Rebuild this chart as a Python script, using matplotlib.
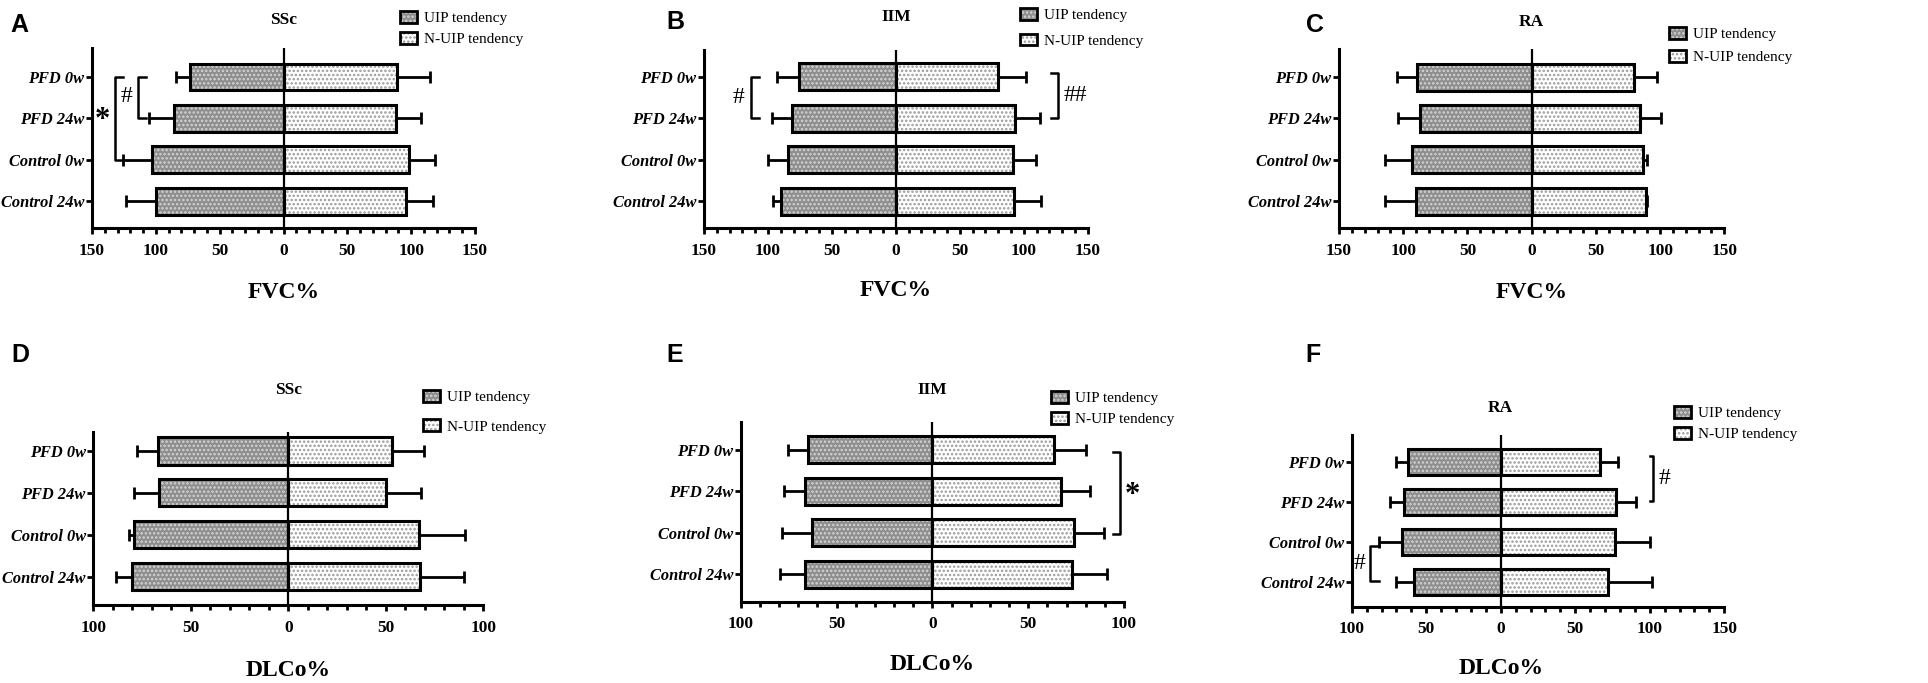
import matplotlib
matplotlib.use("Agg")
import matplotlib.pyplot as plt
import numpy as np
from matplotlib.patches import Patch
from matplotlib.legend_handler import HandlerTuple
from matplotlib.ticker import MultipleLocator, FuncFormatter
from matplotlib.transforms import blended_transform_factory

plt.rcParams['font.family'] = ['Liberation Serif', 'DejaVu Serif']
plt.rcParams['hatch.linewidth'] = 1.2

W, H = 1928, 683

groups = ['PFD 0w', 'PFD 24w', 'Control 0w', 'Control 24w']

# FVC% (mean, SD) per disease
ssc_fvc_uip = [73, 86, 103, 100]
ssc_fvc_uip_sd = [11, 19, 23, 23]
ssc_fvc_nuip = [89, 88, 98, 96]
ssc_fvc_nuip_sd = [26, 20, 21, 21]

iim_fvc_uip = [76, 81, 84, 90]
iim_fvc_uip_sd = [17, 16, 16, 6]
iim_fvc_nuip = [80, 93.5, 91.5, 92]
iim_fvc_nuip_sd = [22, 19.5, 18, 21.5]

ra_fvc_uip = [89, 87, 93, 90]
ra_fvc_uip_sd = [15.5, 17, 21, 24]
ra_fvc_nuip = [80, 84.5, 87, 89]
ra_fvc_nuip_sd = [17.5, 16, 2.5, 0.8]

# DLCo% (mean, SD) per disease
ssc_dlco_uip = [67, 66.5, 79, 80]
ssc_dlco_uip_sd = [10.5, 12.5, 2.5, 8.5]
ssc_dlco_nuip = [53, 50, 67, 67.5]
ssc_dlco_nuip_sd = [16.5, 18, 23.5, 22.5]

iim_dlco_uip = [65, 66.5, 63, 66.5]
iim_dlco_uip_sd = [10.5, 11, 15.5, 13]
iim_dlco_nuip = [63.5, 67, 74, 73]
iim_dlco_nuip_sd = [16.5, 15.5, 15.5, 18]

ra_dlco_uip = [62, 65, 66, 58]
ra_dlco_uip_sd = [8, 9.5, 15.5, 12.5]
ra_dlco_nuip = [66.5, 77.5, 76.5, 72]
ra_dlco_nuip_sd = [12, 13, 23.5, 29.5]

UIP_FACE = '#8e8e8e'
UIP_HATCH = '#d4d4d4'
NUIP_FACE = 'white'
NUIP_HATCH = '#9a9a9a'


def px(x, y):
    return x / W, 1 - y / H


def draw_panel(fig, rect, uip, uip_sd, nuip, nuip_sd, xlim, ylim_top, ylim_bottom):
    ax = fig.add_axes(rect)
    y = np.arange(len(groups))
    h = 0.65
    neg = -np.array(uip)
    # hatched fills first, then a clean black outline on top
    ax.barh(y, neg, height=h, color=UIP_FACE, edgecolor=UIP_HATCH, hatch='....', linewidth=0, zorder=2)
    ax.barh(y, nuip, height=h, color=NUIP_FACE, edgecolor=NUIP_HATCH, hatch='....', linewidth=0, zorder=2)
    ax.barh(y, neg, height=h, fill=False, edgecolor='black', linewidth=2.2, zorder=3)
    ax.barh(y, nuip, height=h, fill=False, edgecolor='black', linewidth=2.2, zorder=3)
    zeros = np.zeros(len(groups))
    ax.errorbar(neg, y, xerr=[uip_sd, zeros], fmt='none', ecolor='black', elinewidth=2,
                capsize=4.5, capthick=2, zorder=1)
    ax.errorbar(nuip, y, xerr=[zeros, nuip_sd], fmt='none', ecolor='black', elinewidth=2,
                capsize=4.5, capthick=2, zorder=1)
    ax.axvline(0, color='black', lw=1.6, zorder=4)

    ax.set_xlim(*xlim)
    ax.set_ylim(len(groups) - 1 + ylim_bottom, -ylim_top)
    ax.set_yticks(y)
    ax.set_yticklabels(groups, fontsize=11.8, fontweight='bold', fontstyle='italic')
    ax.xaxis.set_major_locator(MultipleLocator(50))
    ax.xaxis.set_minor_locator(MultipleLocator(10))
    ax.xaxis.set_major_formatter(FuncFormatter(lambda v, p: f"{abs(v):.0f}"))
    ax.tick_params(axis='x', which='major', length=4.5, width=2, labelsize=12.5, pad=6)
    ax.tick_params(axis='x', which='minor', length=3.5, width=2)
    ax.tick_params(axis='y', length=4, width=2, pad=1.5)
    for s in ['top', 'right']:
        ax.spines[s].set_visible(False)
    for s in ['left', 'bottom']:
        ax.spines[s].set_linewidth(2.2)
    for lab in ax.get_xticklabels():
        lab.set_fontweight('bold')
    return ax


def bracket(ax, x, y0, y1, x_tick, text, tx, ty, size=17, weight='normal'):
    ax.plot([x_tick, x, x, x_tick], [y0, y0, y1, y1], color='black', lw=1.8, clip_on=False, zorder=5)
    ax.text(tx, ty, text, fontsize=size, fontweight=weight, ha='center', va='center', clip_on=False)


def headers(fig, ax, letter, letter_xy, title, title_y, xlabel, xlabel_y, leg_xy, leg_sp):
    tr = blended_transform_factory(ax.transData, fig.transFigure)
    ax.text(0, 1 - title_y / H, title, transform=tr, ha='center', va='center',
            fontsize=12.5, fontweight='bold')
    ax.text(0, 1 - xlabel_y / H, xlabel, transform=tr, ha='center', va='center',
            fontsize=17, fontweight='bold')
    fig.text(*px(*letter_xy), letter, ha='center', va='center', fontsize=18,
             fontweight='bold', family='Liberation Sans')
    h_uip = (Patch(facecolor=UIP_FACE, edgecolor=UIP_HATCH, hatch='....', linewidth=0),
             Patch(fill=False, edgecolor='black', linewidth=2))
    h_nuip = (Patch(facecolor=NUIP_FACE, edgecolor=NUIP_HATCH, hatch='....', linewidth=0),
              Patch(fill=False, edgecolor='black', linewidth=2))
    fig.legend([h_uip, h_nuip], ['UIP tendency', 'N-UIP tendency'],
               handler_map={tuple: HandlerTuple(ndivide=1)},
               loc='upper left', bbox_to_anchor=px(leg_xy[0], leg_xy[1]),
               frameon=False, fontsize=11, borderpad=0, borderaxespad=0,
               handlelength=1.1, handleheight=0.8, handletextpad=0.5,
               labelspacing=leg_sp)


fig = plt.figure(figsize=(W / 100, H / 100), dpi=100)

# Panel A
axA = draw_panel(fig, [92 / W, 1 - 228 / H, 383 / W, 180 / H],
                 ssc_fvc_uip, ssc_fvc_uip_sd, ssc_fvc_nuip, ssc_fvc_nuip_sd,
                 (-150, 150), 0.70, 0.65)
bracket(axA, -113.7, 0, 1, -107.7, '#', -122.6, 0.48)
bracket(axA, -131.7, 0, 2, -126, '*', -142, 1.05, size=22, weight='bold')
headers(fig, axA, 'A', (19, 25), 'SSc', 20, 'FVC%', 293, (400, 11), 0.45)

# Panel B
axB = draw_panel(fig, [704 / W, 1 - 228 / H, 383.7 / W, 178 / H],
                 iim_fvc_uip, iim_fvc_uip_sd, iim_fvc_nuip, iim_fvc_nuip_sd,
                 (-150, 150), 0.65, 0.65)
bracket(axB, -113.4, 0, 1, -107.2, '#', -122.8, 0.5)
bracket(axB, 127, -0.1, 1, 121, '##', 140.6, 0.45)
headers(fig, axB, 'B', (675, 22), 'IIM', 17, 'FVC%', 290, (1020, 8), 0.75)

# Panel C
axC = draw_panel(fig, [1339 / W, 1 - 228 / H, 385.3 / W, 179 / H],
                 ra_fvc_uip, ra_fvc_uip_sd, ra_fvc_nuip, ra_fvc_nuip_sd,
                 (-150, 150), 0.68, 0.65)
headers(fig, axC, 'C', (1315, 25), 'RA', 22, 'FVC%', 292, (1669, 27), 0.6)

# Panel D
axD = draw_panel(fig, [93.3 / W, 1 - 605 / H, 390 / W, 173.3 / H],
                 ssc_dlco_uip, ssc_dlco_uip_sd, ssc_dlco_nuip, ssc_dlco_nuip_sd,
                 (-100, 100), 0.46, 0.68)
headers(fig, axD, 'D', (20, 355), 'SSc', 390, 'DLCo%', 670, (423, 390), 1.0)

# Panel E
axE = draw_panel(fig, [740.7 / W, 1 - 601.7 / H, 383.3 / W, 180 / H],
                 iim_dlco_uip, iim_dlco_uip_sd, iim_dlco_nuip, iim_dlco_nuip_sd,
                 (-100, 100), 0.68, 0.66)
bracket(axE, 98, 0.04, 2.03, 94.2, '*', 104.2, 1.1, size=22, weight='bold')
headers(fig, axE, 'E', (675, 355), 'IIM', 390, 'DLCo%', 665, (1050.7, 391), 0.45)

# Panel F
axF = draw_panel(fig, [1351.7 / W, 1 - 606.7 / H, 372.6 / W, 171.7 / H],
                 ra_dlco_uip, ra_dlco_uip_sd, ra_dlco_nuip, ra_dlco_nuip_sd,
                 (-100, 150), 0.67, 0.63)
bracket(axF, 102, -0.14, 0.98, 100, '#', 109.7, 0.42)
bracket(axF, -87.6, 2.1, 2.98, -82, '#', -95, 2.54)
headers(fig, axF, 'F', (1313, 355), 'RA', 408, 'DLCo%', 668, (1674, 406), 0.45)

fig.savefig('out.png', dpi=100)
